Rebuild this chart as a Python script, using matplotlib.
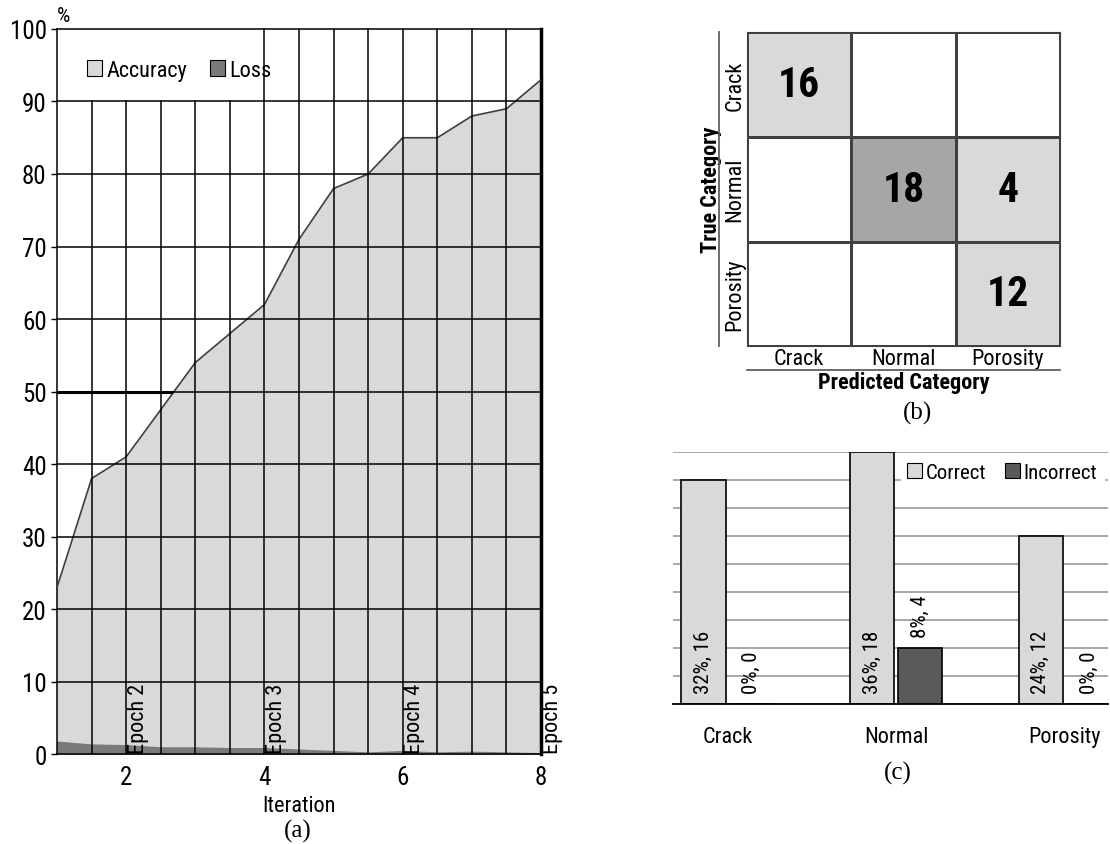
import matplotlib
matplotlib.use("Agg")
import matplotlib.pyplot as plt
import numpy as np
from matplotlib.colors import ListedColormap, BoundaryNorm
from matplotlib.patches import Patch

plt.rcParams['font.family'] = ['Liberation Sans Narrow', 'Arial Narrow', 'Roboto Condensed',
                               'Liberation Sans', 'DejaVu Sans']
serif = ['Liberation Serif', 'DejaVu Serif']

# (a) training curve
iteration = [1, 1.5, 2, 2.5, 3, 3.5, 4, 4.5, 5, 5.5, 6, 6.5, 7, 7.5, 8]
accuracy = [23, 38, 41, 47.5, 54, 58, 62, 71, 78, 80, 85, 85, 88, 89, 93]
loss = [1.7, 1.3, 1.2, 0.9, 0.9, 0.8, 0.8, 0.6, 0.4, 0.2, 0.4, 0.2, 0.3, 0.2, 0.1]
epochs = [2, 4, 6, 8]
epoch_labels = ["Epoch 2", "Epoch 3", "Epoch 4", "Epoch 5"]

# (b) confusion matrix
classes = ["Crack", "Normal", "Porosity"]
conf = np.array([[16, 0, 0],
                 [0, 18, 4],
                 [0, 0, 12]])

# (c) correct / incorrect counts
correct = [16, 18, 12]
incorrect = [0, 4, 0]
total = 50

fig = plt.figure(figsize=(11.1, 8.45), dpi=100)

# ---------------- (a) ----------------
ax = fig.add_axes([0.0514, 0.1065, 0.436, 0.858])
ax.fill_between(iteration, accuracy, 0, color='#d9d9d9', zorder=1)
ax.plot(iteration, accuracy, color='#404040', lw=1.2, zorder=3)
ax.fill_between(iteration, loss, 0, color='#7a7a7a', zorder=2)
ax.set_xlim(1, 8)
ax.set_ylim(0, 100)
for y in range(10, 100, 10):
    ax.axhline(y, color='black', lw=1.1, zorder=4)
for x in np.arange(1.5, 8, 0.5):
    top = 90 if x < 4 else 100
    ax.plot([x, x], [0, top], color='black', lw=1.1, zorder=4)
ax.plot([1, 2.65], [50, 50], color='black', lw=2.2, zorder=5)
ax.set_yticks(range(0, 101, 10))
ax.set_xticks([2, 4, 6, 8])
ax.tick_params(labelsize=18, length=4, width=1)
ax.tick_params(axis='x', length=0, pad=8)
for s in ['left', 'bottom', 'top']:
    ax.spines[s].set_linewidth(1.1)
ax.spines['right'].set_linewidth(2.5)
ax.set_xlabel("Iteration", fontsize=16, labelpad=4)
ax.text(0, 1.005, "%", transform=ax.transAxes, fontsize=15, ha='left', va='bottom')
for xe, lab in zip(epochs, epoch_labels):
    ax.text(xe + 0.02, 0.2, lab, rotation=90, fontsize=16, ha='left', va='bottom', zorder=6)
handles = [Patch(facecolor='#d9d9d9', edgecolor='black', lw=0.8, label='Accuracy'),
           Patch(facecolor='#7a7a7a', edgecolor='black', lw=0.8, label='Loss')]
ax.legend(handles=handles, loc='upper left', bbox_to_anchor=(0.02, 0.985), ncol=2,
          frameon=False, fontsize=16, handlelength=0.7, handleheight=0.7,
          handletextpad=0.2, columnspacing=1.0)
fig.text(0.268, 0.016, "(a)", fontsize=18, family=serif, ha='center', va='center')

# ---------------- (b) ----------------
bx = fig.add_axes([0.673, 0.589, 0.282, 0.3716])
cmap = ListedColormap(['white', '#d9d9d9', '#a6a6a6'])
norm = BoundaryNorm([0, 1, 17, 19], cmap.N)
bx.pcolormesh(np.arange(4), np.arange(4), conf, cmap=cmap, norm=norm,
              edgecolors='#404040', linewidth=1.0)
bx.set_xlim(0, 3)
bx.set_ylim(3, 0)
for i in range(3):
    for j in range(3):
        if conf[i, j] > 0:
            bx.text(j + 0.5, i + 0.5, str(conf[i, j]), ha='center', va='center',
                    fontsize=30, fontweight='bold')
bx.set_xticks(np.arange(3) + 0.5)
bx.set_xticklabels(classes, fontsize=16)
bx.set_yticks(np.arange(3) + 0.5)
bx.set_yticklabels(classes, fontsize=16, rotation=90, va='center')
bx.tick_params(length=0, pad=1)
for s in bx.spines.values():
    s.set_color('#404040')
bx.plot([-0.09, -0.09], [0, 1], transform=bx.transAxes, color='#606060', lw=1.3, clip_on=False)
bx.plot([0, 1], [-0.076, -0.076], transform=bx.transAxes, color='#606060', lw=1.3, clip_on=False)
bx.set_xlabel("Predicted Category", fontsize=16, fontweight='bold', labelpad=2)
bx.set_ylabel("True Category", fontsize=16, fontweight='bold', labelpad=2)
fig.text(0.827, 0.511, "(b)", fontsize=18, family=serif, ha='center', va='center')

# ---------------- (c) ----------------
cx = fig.add_axes([0.606, 0.1657, 0.392, 0.298])
pos = np.arange(3)
w = 0.262
cx.set_axisbelow(True)
cx.yaxis.grid(True, color='#a0a0a0', lw=1.3)
cx.bar(pos - 0.143, correct, w, color='#d9d9d9', edgecolor='black', lw=1.2, label='Correct')
cx.bar(pos + 0.143, incorrect, w, color='#595959', edgecolor='black', lw=1.2, label='Incorrect')
cx.set_ylim(0, 18)
cx.set_yticks(range(0, 19, 2))
cx.set_xlim(-0.326, 2.255)
for i in range(3):
    cx.annotate(f"{correct[i] * 100 // total}%, {correct[i]}", (pos[i] - 0.143, 0),
                xytext=(0, 8), textcoords='offset points', rotation=90,
                ha='center', va='bottom', fontsize=15)
    cx.annotate(f"{incorrect[i] * 100 // total}%, {incorrect[i]}", (pos[i] + 0.143, incorrect[i]),
                xytext=(0, 8), textcoords='offset points', rotation=90,
                ha='center', va='bottom', fontsize=15)
cx.set_xticks(pos)
cx.set_xticklabels(classes, fontsize=16)
cx.tick_params(axis='x', length=0, pad=16)
cx.tick_params(axis='y', length=0, labelleft=False)
for s in ['left', 'right', 'top']:
    cx.spines[s].set_visible(False)
cx.spines['bottom'].set_linewidth(1.3)
leg = cx.legend(loc='upper right', bbox_to_anchor=(1.0, 1.0), ncol=2, fontsize=15,
                frameon=True, handlelength=0.7, handleheight=0.7, handletextpad=0.2,
                columnspacing=0.9, borderaxespad=0.2, borderpad=0.3, fancybox=False)
leg.get_frame().set_edgecolor('white')
leg.get_frame().set_alpha(1)
for h in leg.legend_handles:
    h.set_linewidth(0.8)
fig.text(0.809, 0.085, "(c)", fontsize=18, family=serif, ha='center', va='center')

fig.savefig("out.png", dpi=100)
